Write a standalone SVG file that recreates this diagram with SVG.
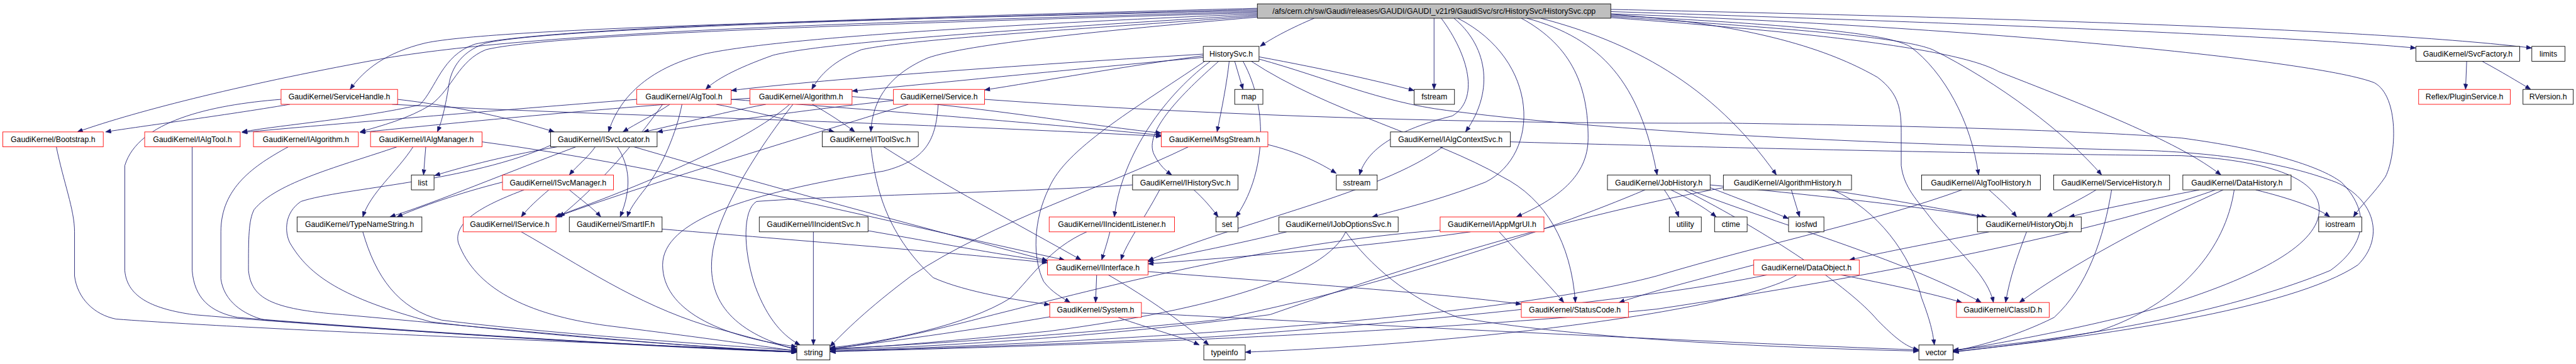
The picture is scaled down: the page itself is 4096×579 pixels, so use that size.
<svg xmlns="http://www.w3.org/2000/svg" width="4096" height="579" viewBox="0 0 4096 579">
<style>
.e path{fill:none;stroke:#191970;stroke-width:1;marker-end:url(#a)}
.n rect{fill:#ffffff;stroke:#000000;stroke-width:1}
.n.r rect{stroke:#ff0000}
.n.h rect{fill:#bfbfbf}
text{font-family:"Liberation Sans",Arial,sans-serif;font-size:14px;text-anchor:middle;fill:#000000}
</style>
<defs>
<marker id="a" markerWidth="10" markerHeight="8" refX="10" refY="4" orient="auto" markerUnits="userSpaceOnUse"><path d="M0,0 L10,4 L0,8 z" fill="#191970" stroke="#191970" stroke-width="0.5"/></marker>
</defs>
<rect width="4096" height="579" fill="#ffffff"/>
<g transform="scale(0.87803)">
<g id="edges" class="e">
<path d="M2380,33 C2340,50 2305,68 2282,84"/>
<path d="M2597,33 L2597,162"/>
<path d="M2277,21 C1600,40 1000,55 700,105 C450,150 250,200 140,239"/>
<path d="M2277,19 C1600,35 900,50 770,78 C700,95 660,125 634,162"/>
<path d="M2277,17 C1700,32 1000,50 880,78 C830,95 815,130 812,160 C805,200 800,220 792,239"/>
<path d="M2277,15 C1700,30 1000,48 860,80 C800,100 790,160 760,190 C650,215 520,225 438,239"/>
<path d="M2277,23 C1700,40 1000,60 880,90 C830,110 820,160 780,190 C740,215 690,228 652,239"/>
<path d="M2277,27 C1900,50 1500,75 1400,100 C1330,125 1295,145 1278,162"/>
<path d="M2277,29 C2000,50 1650,70 1560,90 C1510,110 1485,135 1470,162"/>
<path d="M2277,25 C1800,45 1400,70 1275,98 C1170,125 1120,180 1102,239"/>
<path d="M2277,31 C2000,55 1750,80 1680,105 C1600,140 1580,190 1577,239"/>
<path d="M2633,33 C2690,80 2710,160 2654,239"/>
<path d="M2610,33 C2660,100 2680,180 2630,210 C2530,235 2475,270 2462,317"/>
<path d="M2640,33 C2790,110 2790,280 2690,330 C2600,365 2530,380 2485,393"/>
<path d="M2755,33 C2850,85 2876,160 2876,250 C2876,320 2820,360 2746,393"/>
<path d="M2765,33 C2900,70 2970,150 3001,317"/>
<path d="M2790,33 C2950,75 3100,150 3217,317"/>
<path d="M2917,28 C3250,45 3420,60 3460,85 C3520,130 3570,220 3583,317"/>
<path d="M2917,30 C3300,55 3450,70 3500,90 C3620,150 3740,240 3806,317"/>
<path d="M2917,32 C3300,60 3550,90 3620,130 C3800,200 3950,260 4022,317"/>
<path d="M2917,21 C3500,40 4100,62 4375,87"/>
<path d="M2917,17 C3600,32 4300,52 4585,87"/>
<path d="M2917,25 C3600,50 4200,110 4300,150 C4345,175 4340,280 4320,320 C4300,350 4275,372 4262,393"/>
<path d="M2917,26 C3200,45 3330,100 3400,140 C3440,170 3443,200 3443,240 L3443,300 C3448,340 3470,360 3500,400 C3550,460 3600,500 3610,548"/>
<path d="M2179,98 C1900,115 1500,142 1324,164"/>
<path d="M2179,101 C2050,118 1880,148 1783,163"/>
<path d="M2179,104 C1950,125 1700,150 1543,165"/>
<path d="M2280,103 C2400,125 2500,148 2561,164"/>
<path d="M2236,111 L2251,162"/>
<path d="M2226,111 C2222,150 2212,200 2204,239"/>
<path d="M2207,111 C2140,170 2070,240 2090,280 C2100,300 2112,310 2122,317"/>
<path d="M2192,111 C2100,180 2030,290 2018,393"/>
<path d="M2251,111 C2300,200 2290,320 2238,393"/>
<path d="M2266,111 C2400,200 2600,250 2720,320 C2800,360 2845,440 2853,548"/>
<path d="M2280,107 C2400,140 2500,185 2620,200 C3000,250 3600,265 3900,273 C4050,280 4150,300 4230,330 C4300,360 4320,430 4270,480 C4150,560 3800,610 3537,637"/>
<path d="M2182,111 C2050,200 1930,270 1900,340 C1870,400 1870,470 1890,510 C1905,530 1925,540 1938,548"/>
<path d="M525,189 C400,210 260,228 191,239"/>
<path d="M509,180 C380,190 250,220 226,300 L226,490 C230,540 280,560 350,570 C700,600 1200,628 1443,638"/>
<path d="M720,180 C850,195 950,222 1004,239"/>
<path d="M710,189 C1100,210 1600,220 2103,247"/>
<path d="M1153,180 C900,200 600,225 438,240"/>
<path d="M1213,189 C1190,205 1150,225 1128,239"/>
<path d="M1297,189 C1380,205 1460,225 1511,239"/>
<path d="M1235,189 C1225,240 1200,300 1170,340 C1150,365 1140,380 1136,393"/>
<path d="M1324,180 C1600,200 1900,225 2103,245"/>
<path d="M1200,189 C1150,260 1080,340 1013,393"/>
<path d="M1358,178 C1100,195 800,225 652,240"/>
<path d="M1387,189 C1300,205 1220,228 1165,239"/>
<path d="M1471,189 C1500,205 1530,225 1548,239"/>
<path d="M1430,189 C1350,260 1150,340 1005,393"/>
<path d="M1436,189 C1380,260 1300,380 1290,460 C1280,540 1320,600 1443,634"/>
<path d="M1543,175 C1800,195 1950,225 2103,241"/>
<path d="M1618,182 C1450,200 1300,222 1190,239"/>
<path d="M1645,189 C1450,250 1150,340 1008,393"/>
<path d="M1699,189 C1695,250 1680,290 1600,310 C1350,350 1200,400 1200,480 C1200,560 1300,610 1443,628"/>
<path d="M1783,180 C2200,210 2700,225 3120,223 C3500,228 3800,238 3950,250 C4100,270 4200,300 4240,330 C4290,380 4290,440 4220,490 C4050,560 3800,610 3537,634"/>
<path d="M102,266 C115,330 135,380 135,420 L135,500 C140,540 170,570 210,578 C500,600 1200,625 1443,637"/>
<path d="M348,266 L348,490 C352,540 380,565 430,575 C800,605 1200,628 1443,638"/>
<path d="M522,266 C460,300 400,340 400,420 L400,505 C405,545 440,570 480,580 C800,605 1200,630 1443,638"/>
<path d="M719,266 C620,300 500,330 460,380 C450,400 450,430 450,490 C455,540 490,560 620,570 C900,595 1250,630 1443,638"/>
<path d="M771,266 L767,317"/>
<path d="M748,266 C720,310 670,350 657,393"/>
<path d="M873,257 C1200,300 1600,400 1928,471"/>
<path d="M1009,266 C900,285 830,305 787,318"/>
<path d="M1043,266 C900,320 780,370 706,393"/>
<path d="M1078,266 C1065,285 1045,300 1031,317"/>
<path d="M1118,266 C1140,300 1145,340 1123,393"/>
<path d="M1148,266 C1400,340 1700,420 1897,472"/>
<path d="M1000,262 C850,330 620,340 545,365 C515,385 515,420 525,440 C560,500 620,540 780,583 C1000,610 1300,630 1443,638"/>
<path d="M1577,266 C1585,330 1600,420 1690,503 C1750,530 1850,545 1901,552"/>
<path d="M1600,266 C1700,330 1850,410 1958,471"/>
<path d="M2152,266 C2000,340 1800,400 1650,500 C1570,560 1530,600 1503,628"/>
<path d="M2296,262 C2350,275 2390,295 2420,314"/>
<path d="M2613,266 C2500,350 2250,400 2079,472"/>
<path d="M2735,257 C3200,270 3700,280 3950,282 C4100,290 4200,320 4200,380 C4200,440 4100,500 3900,560 C3750,600 3600,625 3537,636"/>
<path d="M994,344 C975,360 955,378 944,393"/>
<path d="M1031,344 C1050,360 1075,378 1088,393"/>
<path d="M910,330 C830,350 760,375 719,393"/>
<path d="M949,344 C880,370 820,400 830,440 C860,520 950,570 1100,590 C1300,615 1400,630 1443,636"/>
<path d="M2162,344 C2180,360 2195,378 2206,393"/>
<path d="M2100,344 C2070,400 2040,440 2030,471"/>
<path d="M2051,335 C1800,350 1500,355 1370,365 C1345,380 1345,450 1367,517 C1390,580 1420,610 1449,625"/>
<path d="M3014,344 C3025,360 3035,378 3040,393"/>
<path d="M3026,344 C3060,360 3090,378 3108,393"/>
<path d="M3097,340 C3150,360 3200,380 3239,396"/>
<path d="M3097,335 C3300,355 3480,375 3590,393"/>
<path d="M2979,344 C2800,420 2500,520 2200,580 C1900,610 1650,625 1503,632"/>
<path d="M3050,344 C3200,420 3350,520 3400,580 C3430,610 3450,628 3475,634"/>
<path d="M3060,344 C3200,400 3450,470 3588,548"/>
<path d="M3244,344 L3259,393"/>
<path d="M3309,344 C3420,360 3520,380 3598,393"/>
<path d="M3319,344 C3400,380 3460,460 3480,540 C3495,580 3500,600 3503,625"/>
<path d="M3121,340 C2800,400 2500,500 2300,570 C2000,610 1700,628 1503,634"/>
<path d="M3602,344 C3620,360 3640,378 3652,393"/>
<path d="M3553,344 C3400,400 3200,440 3000,500 C2700,580 2000,620 1503,636"/>
<path d="M3796,344 C3770,360 3730,380 3707,393"/>
<path d="M3824,344 C3810,430 3780,520 3720,575 C3650,610 3580,628 3537,636"/>
<path d="M3983,344 C3900,360 3800,380 3747,393"/>
<path d="M4085,344 C4150,360 4200,378 4219,393"/>
<path d="M4046,344 C4030,450 3950,550 3800,600 C3700,620 3600,630 3537,638"/>
<path d="M4026,344 C3900,400 3750,480 3657,548"/>
<path d="M4012,344 C3800,420 3400,500 3000,560 C2500,610 1800,630 1503,637"/>
<path d="M657,420 C680,500 720,560 800,580 C1000,605 1300,625 1443,635"/>
<path d="M944,420 C1050,480 1150,550 1280,590 C1360,612 1420,628 1443,632"/>
<path d="M1199,415 C1500,440 1750,460 1897,476"/>
<path d="M1473,420 L1473,625"/>
<path d="M1572,418 C1700,440 1800,460 1897,473"/>
<path d="M2010,420 C2005,440 2000,455 1995,471"/>
<path d="M1968,420 C1900,450 1870,500 1830,540 C1750,590 1600,620 1503,630"/>
<path d="M2330,420 C2250,440 2150,460 2079,474"/>
<path d="M2437,420 C2400,500 2200,560 1900,600 C1700,620 1600,628 1503,633"/>
<path d="M2437,420 C2480,480 2550,540 2640,575 C2900,620 3300,632 3475,636"/>
<path d="M2715,420 C2760,470 2800,510 2832,548"/>
<path d="M2663,420 C2450,450 2250,465 2079,478"/>
<path d="M2608,417 C2300,440 2000,520 1800,570 C1650,610 1550,628 1503,632"/>
<path d="M3602,420 C3500,440 3420,455 3349,471"/>
<path d="M3670,420 C3655,460 3640,500 3632,548"/>
<path d="M1986,498 L1984,548"/>
<path d="M2007,498 C2080,540 2150,590 2189,625"/>
<path d="M2079,492 C2300,510 2600,530 2755,551"/>
<path d="M3334,498 C3420,515 3500,532 3553,548"/>
<path d="M3176,480 C3100,500 3000,525 2932,548"/>
<path d="M3200,498 C3000,540 2600,580 2200,610 C1900,625 1650,632 1503,637"/>
<path d="M3254,498 C3150,560 2700,620 2255,638"/>
<path d="M2025,575 C2080,595 2140,610 2172,625"/>
<path d="M1901,574 C1750,600 1600,620 1503,632"/>
<path d="M2067,567 C2500,590 3100,620 3475,634"/>
<path d="M4467,111 L4465,162"/>
<path d="M4495,111 C4530,130 4560,148 4583,162"/>
</g>
<g id="n_HistorySvc_cpp" class="n h"><rect x="2277" y="7" width="640" height="26"/><text x="2597" y="25">/afs/cern.ch/sw/Gaudi/releases/GAUDI/GAUDI_v21r9/GaudiSvc/src/HistorySvc/HistorySvc.cpp</text></g>
<g id="n_HistorySvc_h" class="n"><rect x="2179" y="84" width="101" height="27"/><text x="2229.5" y="102.5">HistorySvc.h</text></g>
<g id="n_SvcFactory" class="n"><rect x="4375" y="84" width="188" height="27"/><text x="4469" y="102.5">GaudiKernel/SvcFactory.h</text></g>
<g id="n_limits" class="n"><rect x="4585" y="84" width="60" height="27"/><text x="4615" y="102.5">limits</text></g>
<g id="n_ServiceHandle" class="n r"><rect x="509" y="162" width="211" height="27"/><text x="614.5" y="180.5">GaudiKernel/ServiceHandle.h</text></g>
<g id="n_AlgTool" class="n r"><rect x="1153" y="162" width="171" height="27"/><text x="1238.5" y="180.5">GaudiKernel/AlgTool.h</text></g>
<g id="n_Algorithm" class="n r"><rect x="1358" y="162" width="185" height="27"/><text x="1450.5" y="180.5">GaudiKernel/Algorithm.h</text></g>
<g id="n_Service" class="n r"><rect x="1618" y="162" width="165" height="27"/><text x="1700.5" y="180.5">GaudiKernel/Service.h</text></g>
<g id="n_map" class="n"><rect x="2236" y="162" width="51" height="27"/><text x="2261.5" y="180.5">map</text></g>
<g id="n_fstream" class="n"><rect x="2561" y="162" width="73" height="27"/><text x="2597.5" y="180.5">fstream</text></g>
<g id="n_PluginService" class="n r"><rect x="4380" y="162" width="166" height="27"/><text x="4463" y="180.5">Reflex/PluginService.h</text></g>
<g id="n_RVersion" class="n"><rect x="4569" y="162" width="91" height="27"/><text x="4614.5" y="180.5">RVersion.h</text></g>
<g id="n_Bootstrap" class="n r"><rect x="5" y="239" width="182" height="27"/><text x="96" y="257.5">GaudiKernel/Bootstrap.h</text></g>
<g id="n_IAlgTool" class="n r"><rect x="262" y="239" width="173" height="27"/><text x="348.5" y="257.5">GaudiKernel/IAlgTool.h</text></g>
<g id="n_IAlgorithm" class="n r"><rect x="459" y="239" width="190" height="27"/><text x="554" y="257.5">GaudiKernel/IAlgorithm.h</text></g>
<g id="n_IAlgManager" class="n r"><rect x="671" y="239" width="202" height="27"/><text x="772" y="257.5">GaudiKernel/IAlgManager.h</text></g>
<g id="n_ISvcLocator" class="n"><rect x="997" y="239" width="193" height="27"/><text x="1093.5" y="257.5">GaudiKernel/ISvcLocator.h</text></g>
<g id="n_IToolSvc" class="n"><rect x="1489" y="239" width="174" height="27"/><text x="1576" y="257.5">GaudiKernel/IToolSvc.h</text></g>
<g id="n_MsgStream" class="n r"><rect x="2103" y="239" width="193" height="27"/><text x="2199.5" y="257.5">GaudiKernel/MsgStream.h</text></g>
<g id="n_IAlgContextSvc" class="n"><rect x="2518" y="239" width="217" height="27"/><text x="2626.5" y="257.5">GaudiKernel/IAlgContextSvc.h</text></g>
<g id="n_list" class="n"><rect x="745" y="317" width="41" height="27"/><text x="765.5" y="335.5">list</text></g>
<g id="n_ISvcManager" class="n r"><rect x="910" y="317" width="201" height="27"/><text x="1010.5" y="335.5">GaudiKernel/ISvcManager.h</text></g>
<g id="n_IHistorySvc" class="n"><rect x="2051" y="317" width="191" height="27"/><text x="2146.5" y="335.5">GaudiKernel/IHistorySvc.h</text></g>
<g id="n_sstream" class="n"><rect x="2420" y="317" width="74" height="27"/><text x="2457" y="335.5">sstream</text></g>
<g id="n_JobHistory" class="n"><rect x="2911" y="317" width="186" height="27"/><text x="3004" y="335.5">GaudiKernel/JobHistory.h</text></g>
<g id="n_AlgorithmHistory" class="n"><rect x="3121" y="317" width="232" height="27"/><text x="3237" y="335.5">GaudiKernel/AlgorithmHistory.h</text></g>
<g id="n_AlgToolHistory" class="n"><rect x="3480" y="317" width="215" height="27"/><text x="3587.5" y="335.5">GaudiKernel/AlgToolHistory.h</text></g>
<g id="n_ServiceHistory" class="n"><rect x="3719" y="317" width="210" height="27"/><text x="3824" y="335.5">GaudiKernel/ServiceHistory.h</text></g>
<g id="n_DataHistory" class="n"><rect x="3953" y="317" width="196" height="27"/><text x="4051" y="335.5">GaudiKernel/DataHistory.h</text></g>
<g id="n_TypeNameString" class="n"><rect x="538" y="393" width="226" height="27"/><text x="651" y="411.5">GaudiKernel/TypeNameString.h</text></g>
<g id="n_IService" class="n r"><rect x="839" y="393" width="168" height="27"/><text x="923" y="411.5">GaudiKernel/IService.h</text></g>
<g id="n_SmartIF" class="n"><rect x="1031" y="393" width="168" height="27"/><text x="1115" y="411.5">GaudiKernel/SmartIF.h</text></g>
<g id="n_IIncidentSvc" class="n"><rect x="1375" y="393" width="197" height="27"/><text x="1473.5" y="411.5">GaudiKernel/IIncidentSvc.h</text></g>
<g id="n_IIncidentListener" class="n r"><rect x="1900" y="393" width="227" height="27"/><text x="2013.5" y="411.5">GaudiKernel/IIncidentListener.h</text></g>
<g id="n_set" class="n"><rect x="2202" y="393" width="40" height="27"/><text x="2222" y="411.5">set</text></g>
<g id="n_IJobOptionsSvc" class="n"><rect x="2316" y="393" width="216" height="27"/><text x="2424" y="411.5">GaudiKernel/IJobOptionsSvc.h</text></g>
<g id="n_IAppMgrUI" class="n r"><rect x="2608" y="393" width="188" height="27"/><text x="2702" y="411.5">GaudiKernel/IAppMgrUI.h</text></g>
<g id="n_utility" class="n"><rect x="3023" y="393" width="58" height="27"/><text x="3052" y="411.5">utility</text></g>
<g id="n_ctime" class="n"><rect x="3105" y="393" width="59" height="27"/><text x="3134.5" y="411.5">ctime</text></g>
<g id="n_iosfwd" class="n"><rect x="3239" y="393" width="64" height="27"/><text x="3271" y="411.5">iosfwd</text></g>
<g id="n_HistoryObj" class="n"><rect x="3581" y="393" width="188" height="27"/><text x="3675" y="411.5">GaudiKernel/HistoryObj.h</text></g>
<g id="n_iostream" class="n"><rect x="4199" y="393" width="78" height="27"/><text x="4238" y="411.5">iostream</text></g>
<g id="n_IInterface" class="n r"><rect x="1897" y="471" width="182" height="27"/><text x="1988" y="489.5">GaudiKernel/IInterface.h</text></g>
<g id="n_DataObject" class="n r"><rect x="3176" y="471" width="191" height="27"/><text x="3271.5" y="489.5">GaudiKernel/DataObject.h</text></g>
<g id="n_System" class="n r"><rect x="1901" y="548" width="166" height="27"/><text x="1984" y="566.5">GaudiKernel/System.h</text></g>
<g id="n_StatusCode" class="n r"><rect x="2755" y="548" width="194" height="27"/><text x="2852" y="566.5">GaudiKernel/StatusCode.h</text></g>
<g id="n_ClassID" class="n r"><rect x="3543" y="548" width="168" height="27"/><text x="3627" y="566.5">GaudiKernel/ClassID.h</text></g>
<g id="n_string" class="n"><rect x="1443" y="625" width="60" height="27"/><text x="1473" y="643.5">string</text></g>
<g id="n_typeinfo" class="n"><rect x="2180" y="625" width="75" height="27"/><text x="2217.5" y="643.5">typeinfo</text></g>
<g id="n_vector" class="n"><rect x="3475" y="625" width="62" height="27"/><text x="3506" y="643.5">vector</text></g>
</g>
</svg>
